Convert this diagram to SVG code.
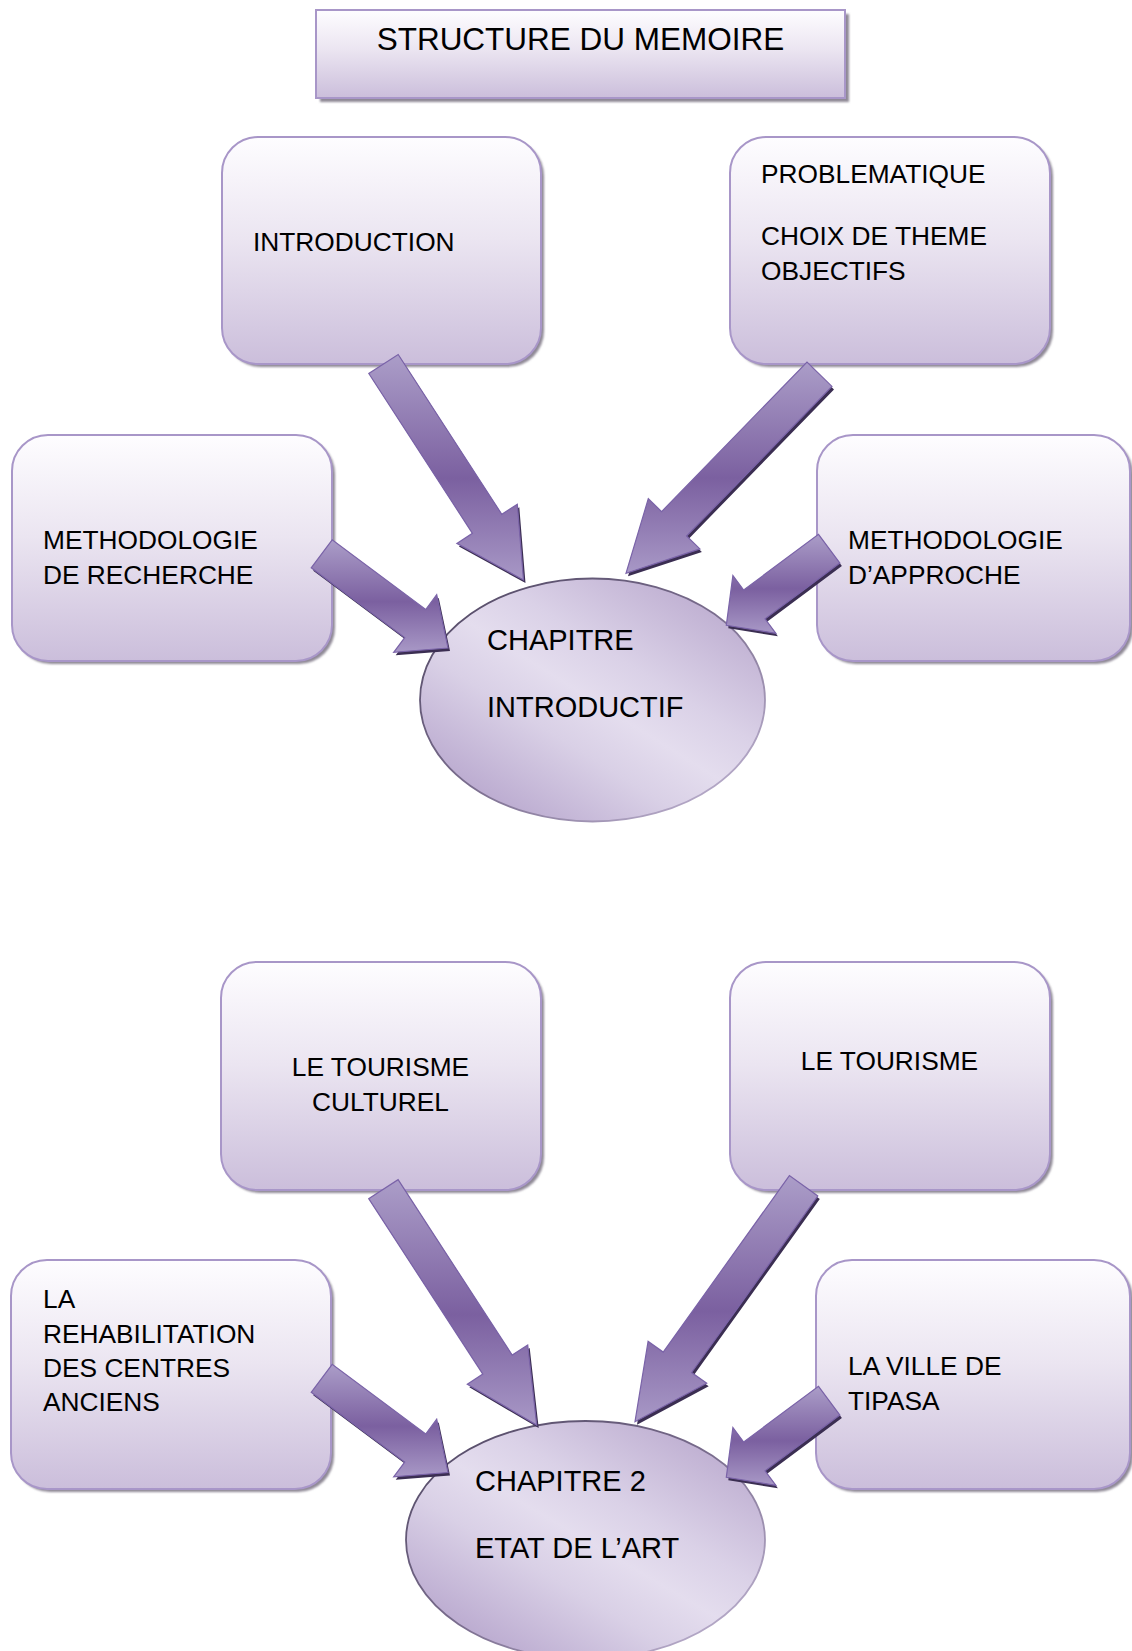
<svg xmlns="http://www.w3.org/2000/svg" xmlns:xlink="http://www.w3.org/1999/xlink" width="1132" height="1651" viewBox="0 0 1132 1651">
<style>
  text { font-family: "Liberation Sans", Arial, sans-serif; fill: #000; }
  .lbl { font-size: 26.3px; }
  .big { font-size: 29px; }
  .mid { text-anchor: middle; }
  .title { font-size: 31.5px; text-anchor: middle; }
  .box { fill: url(#boxGrad); stroke: #a896c8; stroke-width: 2; }
  .shadow { fill: #8f8996; filter: url(#blur); }
  .ell { fill: url(#ellGrad); stroke: url(#ellStroke); stroke-width: 1.8; }
  .arrow { fill: url(#arrGrad); stroke: #7a63a8; stroke-width: 1.2; stroke-linejoin: miter; }
  .ashadow { fill: #3b2e52; }
</style>
<defs>
  <linearGradient id="boxGrad" x1="0" y1="0" x2="0" y2="1">
    <stop offset="0" stop-color="#fefdff"/>
    <stop offset="0.45" stop-color="#ebe5f1"/>
    <stop offset="1" stop-color="#cbbedb"/>
  </linearGradient>
  <linearGradient id="ellGrad" x1="0.1" y1="0.95" x2="0.9" y2="0.05">
    <stop offset="0" stop-color="#b3a1ca"/>
    <stop offset="0.35" stop-color="#d9d0e6"/>
    <stop offset="0.5" stop-color="#e4ddee"/>
    <stop offset="0.65" stop-color="#dad1e7"/>
    <stop offset="1" stop-color="#b9a8cd"/>
  </linearGradient>
  <linearGradient id="ellStroke" x1="0" y1="0" x2="1" y2="1">
    <stop offset="0" stop-color="#4e4560"/>
    <stop offset="0.5" stop-color="#7a6d8e"/>
    <stop offset="1" stop-color="#c9bddb"/>
  </linearGradient>
  <linearGradient id="arrGrad" x1="0" y1="0" x2="0" y2="1">
    <stop offset="0" stop-color="#ab9dc8"/>
    <stop offset="0.55" stop-color="#7b60a0"/>
    <stop offset="1" stop-color="#a898c6"/>
  </linearGradient>
  <filter id="blur" x="-5%" y="-5%" width="110%" height="110%">
    <feGaussianBlur stdDeviation="1.2"/>
  </filter>
  <polygon id="aA" points="398.2,354.5 501.8,514.3 517.3,504.2 523.5,580 456.9,543.4 472.4,533.3 368.8,373.5"/>
  <polygon id="aB" points="832.0,386.4 686.6,536.0 699.9,548.9 626,573.3 648.3,498.7 661.6,511.6 807.0,362.0"/>
  <polygon id="aC" points="311.2,567.8 404.7,637.5 393.7,652.3 448,648 436.7,594.7 425.7,609.5 332.2,539.8"/>
  <polygon id="aD" points="839.9,563.1 765.1,618.8 775.9,633.3 726.3,625.3 732.9,575.5 743.7,590.0 818.5,534.3"/>
  <polygon id="aE" points="398.1,1179.7 512.2,1355.1 527.7,1345.0 536.7,1425 467.3,1384.2 482.8,1374.1 368.7,1198.7"/>
  <polygon id="aF" points="817.8,1196.0 691.6,1372.5 706.7,1383.2 635,1421.7 648.1,1341.4 663.2,1352.1 789.4,1175.6"/>
  <polygon id="aG" points="311.2,1392.3 404.7,1462 393.7,1476.8 448,1472.5 436.7,1419.2 425.7,1434 332.2,1364.3"/>
  <polygon id="aH" points="839.9,1415.1 765.1,1470.8 775.9,1485.3 726.3,1477.3 732.9,1427.5 743.7,1442 818.5,1386.3"/>
</defs>
<rect width="1132" height="1651" fill="#ffffff"/>

<g id="title">
  <rect class="shadow" x="320" y="14" width="529" height="88"/>
  <rect x="316" y="10" width="529" height="88" fill="url(#boxGrad)" stroke="#a896c8" stroke-width="2"/>
  <text class="title" x="580.5" y="50">STRUCTURE DU MEMOIRE</text>
</g>

<g id="introduction">
  <rect class="shadow" x="225" y="140" width="319" height="227" rx="36"/>
  <rect class="box" x="222" y="137" width="319" height="227" rx="36"/>
  <text class="lbl" x="253" y="250.5">INTRODUCTION</text>
</g>

<g id="problematique">
  <rect class="shadow" x="733" y="140" width="320" height="227" rx="36"/>
  <rect class="box" x="730" y="137" width="320" height="227" rx="36"/>
  <text class="lbl" x="761" y="183">PROBLEMATIQUE</text>
  <text class="lbl" x="761" y="245">CHOIX DE THEME</text>
  <text class="lbl" x="761" y="280">OBJECTIFS</text>
</g>

<g id="methodologie-recherche">
  <rect class="shadow" x="15" y="438" width="320" height="226" rx="36"/>
  <rect class="box" x="12" y="435" width="320" height="226" rx="36"/>
  <text class="lbl" x="43" y="549">METHODOLOGIE</text>
  <text class="lbl" x="43" y="584">DE RECHERCHE</text>
</g>

<g id="methodologie-approche">
  <rect class="shadow" x="820" y="438" width="313" height="226" rx="36"/>
  <rect class="box" x="817" y="435" width="313" height="226" rx="36"/>
  <text class="lbl" x="848" y="549">METHODOLOGIE</text>
  <text class="lbl" x="848" y="584">D’APPROCHE</text>
</g>

<g id="chapitre-introductif">
  <ellipse class="ell" cx="592.5" cy="700" rx="172.5" ry="121.5"/>
  <text class="big" x="487" y="650">CHAPITRE</text>
  <text class="big" x="487" y="717">INTRODUCTIF</text>
</g>

<g id="tourisme-culturel">
  <rect class="shadow" x="224" y="965" width="320" height="228" rx="36"/>
  <rect class="box" x="221" y="962" width="320" height="228" rx="36"/>
  <text class="lbl mid" x="380.5" y="1076">LE TOURISME</text>
  <text class="lbl mid" x="380.5" y="1111">CULTUREL</text>
</g>

<g id="tourisme">
  <rect class="shadow" x="733" y="965" width="320" height="228" rx="36"/>
  <rect class="box" x="730" y="962" width="320" height="228" rx="36"/>
  <text class="lbl mid" x="889.5" y="1070">LE TOURISME</text>
</g>

<g id="rehabilitation">
  <rect class="shadow" x="14" y="1263" width="320" height="229" rx="36"/>
  <rect class="box" x="11" y="1260" width="320" height="229" rx="36"/>
  <text class="lbl" x="43" y="1307.5">LA</text>
  <text class="lbl" x="43" y="1342.5">REHABILITATION</text>
  <text class="lbl" x="43" y="1377">DES CENTRES</text>
  <text class="lbl" x="43" y="1411">ANCIENS</text>
</g>

<g id="ville-tipasa">
  <rect class="shadow" x="819" y="1263" width="314" height="229" rx="36"/>
  <rect class="box" x="816" y="1260" width="314" height="229" rx="36"/>
  <text class="lbl" x="848" y="1375">LA VILLE DE</text>
  <text class="lbl" x="848" y="1410">TIPASA</text>
</g>

<g id="chapitre-2">
  <ellipse class="ell" cx="585.5" cy="1540" rx="179.5" ry="119"/>
  <text class="big" x="475" y="1491">CHAPITRE 2</text>
  <text class="big" x="475" y="1558">ETAT DE L’ART</text>
</g>

<g id="connectors">
  <use xlink:href="#aA" href="#aA" class="ashadow" transform="translate(2,3)"/>
  <use xlink:href="#aA" href="#aA" class="arrow"/>
  <use xlink:href="#aB" href="#aB" class="ashadow" transform="translate(2,3)"/>
  <use xlink:href="#aB" href="#aB" class="arrow"/>
  <use xlink:href="#aC" href="#aC" class="ashadow" transform="translate(2,3)"/>
  <use xlink:href="#aC" href="#aC" class="arrow"/>
  <use xlink:href="#aD" href="#aD" class="ashadow" transform="translate(2,3)"/>
  <use xlink:href="#aD" href="#aD" class="arrow"/>
  <use xlink:href="#aE" href="#aE" class="ashadow" transform="translate(2,3)"/>
  <use xlink:href="#aE" href="#aE" class="arrow"/>
  <use xlink:href="#aF" href="#aF" class="ashadow" transform="translate(2,3)"/>
  <use xlink:href="#aF" href="#aF" class="arrow"/>
  <use xlink:href="#aG" href="#aG" class="ashadow" transform="translate(2,3)"/>
  <use xlink:href="#aG" href="#aG" class="arrow"/>
  <use xlink:href="#aH" href="#aH" class="ashadow" transform="translate(2,3)"/>
  <use xlink:href="#aH" href="#aH" class="arrow"/>
</g>
</svg>
